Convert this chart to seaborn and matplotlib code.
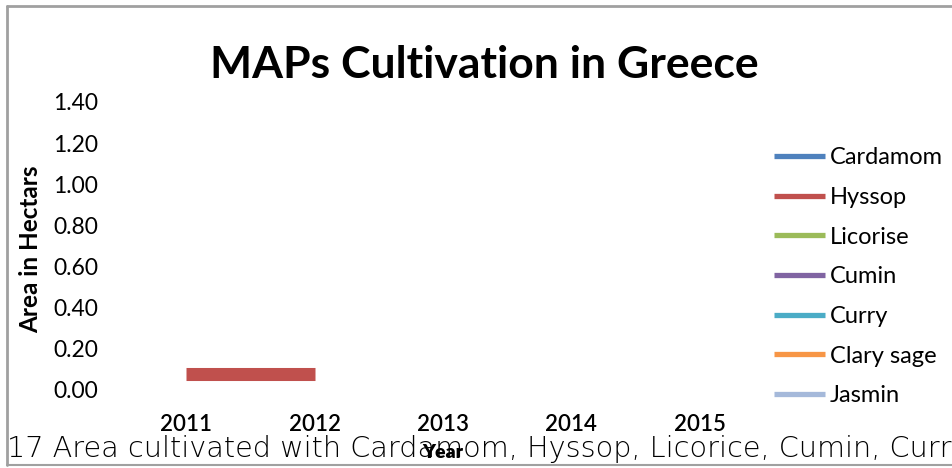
import matplotlib
matplotlib.use("Agg")
import matplotlib.pyplot as plt
from matplotlib.lines import Line2D
import numpy as np
import pandas as pd
import seaborn as sns

years = [2011, 2012, 2013, 2014, 2015]
series_names = ["Cardamom", "Hyssop", "Licorise", "Cumin", "Curry", "Clary sage", "Jasmin"]
cardamom = [np.nan, np.nan, np.nan, np.nan, np.nan]
hyssop = [0.08, 0.08, np.nan, np.nan, np.nan]
licorise = [np.nan, np.nan, np.nan, np.nan, np.nan]
cumin = [np.nan, np.nan, np.nan, np.nan, np.nan]
curry = [np.nan, np.nan, np.nan, np.nan, np.nan]
clary_sage = [np.nan, np.nan, np.nan, np.nan, np.nan]
jasmin = [np.nan, np.nan, np.nan, np.nan, np.nan]
colors = ["#4F81BD", "#C0504D", "#9BBB59", "#8064A2", "#4BACC6", "#F79646", "#A5B9DA"]
y_ticks = [0.0, 0.2, 0.4, 0.6, 0.8, 1.0, 1.2, 1.4]

values = [cardamom, hyssop, licorise, cumin, curry, clary_sage, jasmin]
df = pd.DataFrame({
    "Year": np.tile(years, len(series_names)),
    "Series": np.repeat(series_names, len(years)),
    "Area": np.concatenate(values),
})

sns.set_theme(style="white")
plt.rcParams["font.family"] = ["Lato", "DejaVu Sans"]
plt.rcParams["text.color"] = "black"
plt.rcParams["xtick.color"] = "black"
plt.rcParams["ytick.color"] = "black"

fig = plt.figure(figsize=(9.52, 4.68), dpi=100)
ax = fig.add_axes([122 / 952, 1 - 390 / 468, 642 / 952, (390 - 102) / 468])

for name, col in zip(series_names, colors):
    sub = df[df["Series"] == name].dropna()
    if len(sub):
        sns.lineplot(data=sub, x="Year", y="Area", color=col, lw=9.4, ax=ax,
                     solid_capstyle="butt", legend=False)

ax.set_xlim(2010.5, 2015.5)
ax.set_ylim(0, 1.4)
ax.set_xticks(years)
ax.set_xticklabels([str(y) for y in years], fontsize=16, fontweight="semibold")
ax.set_yticks(y_ticks)
ax.set_yticklabels([f"{v:.2f}" for v in y_ticks], fontsize=16.5)
ax.tick_params(axis="x", length=0, pad=17)
ax.tick_params(axis="y", length=0, pad=17)
for s in ax.spines.values():
    s.set_visible(False)
ax.set_xlabel("")
ax.set_ylabel("")

fig.text(31 / 952, 1 - 249 / 468, "Area in Hectars", rotation=90, ha="center", va="center",
         fontsize=17.5, fontweight="bold")
fig.text(484 / 952, 1 - 65 / 468, "MAPs Cultivation in Greece", ha="center", va="center",
         fontsize=32, fontweight="bold")

handles = [Line2D([0], [0], color=c, lw=3.8, solid_capstyle="butt") for c in colors]
leg = fig.legend(handles, series_names, loc="upper left", bbox_to_anchor=(765 / 952, 1 - 138 / 468),
                 frameon=False, fontsize=17, handlelength=2.15, handletextpad=0.2,
                 labelspacing=0.79, borderaxespad=0)

# caption (cropped at the right edge) and x label overlapping it
fig.text(7 / 952, 1 - 449 / 468, "17 Area cultivated with Cardamom, Hyssop, Licorice, Cumin, Curry",
         ha="left", va="center", fontsize=20.7, fontweight="light",
         family=["DejaVu Sans"], color="black")
fig.text(443 / 952, 1 - 452 / 468, "Year", ha="center", va="center", fontsize=14, fontweight="heavy")

# frame border (left, top, bottom)
fig.add_artist(Line2D([7 / 952, 7 / 952], [1 - 6 / 468, 1 - 465 / 468], color="#A0A0A0", lw=2,
                      transform=fig.transFigure))
fig.add_artist(Line2D([7 / 952, 1], [1 - 6 / 468, 1 - 6 / 468], color="#A0A0A0", lw=2,
                      transform=fig.transFigure))
fig.add_artist(Line2D([7 / 952, 1], [1 - 465 / 468, 1 - 465 / 468], color="#A0A0A0", lw=1.5,
                      transform=fig.transFigure))

fig.savefig("out.png", dpi=100)
